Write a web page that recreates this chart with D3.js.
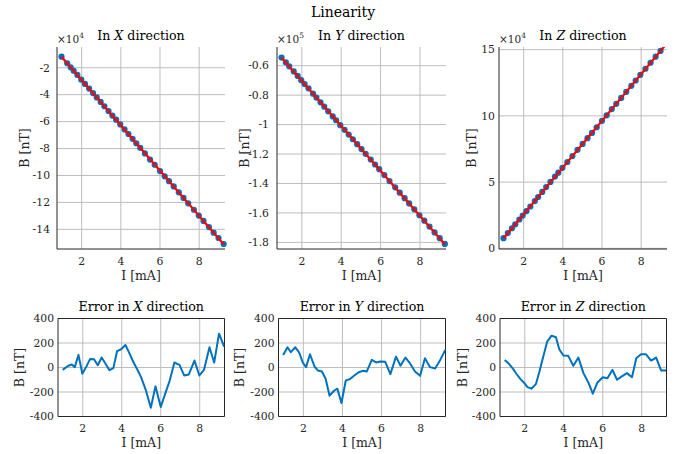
<!DOCTYPE html>
<html>
<head>
<meta charset="utf-8">
<script src="https://cdn.jsdelivr.net/npm/d3@7"></script>
<style>
body{margin:0;background:#fff}
svg text{fill:#262626}
</style>
</head>
<body>
<svg id="fig" width="686" height="454"></svg>
<script>
// measured currents [mA], field [nT] and fit residual [nT] for each direction
var currentX=[0.97,1.26,1.44,1.59,1.78,1.98,2.17,2.38,2.58,2.77,2.97,3.16,3.37,3.57,3.76,3.97,4.19,4.39,4.60,4.79,4.99,5.23,5.49,5.73,6.00,6.24,6.46,6.70,6.96,7.20,7.44,7.73,7.98,8.22,8.50,8.74,8.99,9.25];
var fieldX=[-11820,-16670,-19690,-22230,-25330,-28840,-31990,-35450,-38820,-42060,-45360,-48610,-52200,-55540,-58600,-62120,-65780,-69210,-72820,-76070,-79500,-83640,-88160,-92020,-96730,-100660,-104250,-108140,-112540,-116660,-120690,-125450,-129780,-133770,-138300,-142460,-146430,-150900];
var errorX=[-19,14,24,3,103,-51,3,70,68,19,81,33,-22,-5,133,149,184,117,43,-14,-79,-182,-328,-154,-322,-209,-106,41,22,-65,-57,57,-65,-19,165,41,276,171];
var fitIX=[0.97,9.25], fitBX=[-11805,-151075];

var currentY=[0.97,1.19,1.36,1.59,1.79,1.97,2.14,2.34,2.57,2.74,2.95,3.14,3.34,3.57,3.74,3.95,4.17,4.38,4.59,4.81,5.03,5.24,5.50,5.72,5.93,6.19,6.45,6.74,6.97,7.22,7.45,7.71,7.97,8.22,8.48,8.74,9.00,9.26];
var fieldY=[-54470,-57770,-60410,-63880,-66980,-69810,-72450,-75400,-79010,-81640,-84850,-87820,-91010,-94480,-97060,-100390,-103560,-106760,-109940,-113270,-116620,-119830,-123710,-127090,-130290,-134270,-138340,-142620,-146210,-149960,-153520,-157560,-161570,-165240,-169290,-173270,-177170,-181060];
var errorY=[103,165,125,165,122,41,3,108,8,-24,-33,-92,-230,-190,-173,-290,-106,-95,-68,-41,-27,-33,62,41,49,46,-54,89,14,81,35,-33,-68,76,3,-8,62,144];
var fitIY=[0.97,9.26], fitBY=[-54577,-181207];

var currentZ=[0.97,1.19,1.40,1.57,1.78,1.95,2.14,2.34,2.57,2.74,2.95,3.15,3.37,3.60,3.77,3.98,4.23,4.49,4.75,5.01,5.26,5.49,5.73,6.00,6.24,6.50,6.73,6.98,7.24,7.50,7.72,7.96,8.22,8.48,8.74,8.99,9.25];
var fieldZ=[7640,11490,15150,18110,21770,24740,28050,31570,35660,38760,42590,46240,50170,54220,57120,60770,65180,69680,74340,78800,83130,87100,91420,96230,100450,105110,109080,113520,118130,122690,126720,130990,135570,140110,144720,149020,153610];
var errorZ=[62,30,-11,-51,-95,-122,-160,-173,-136,-41,89,211,260,247,149,98,95,14,81,-46,-122,-214,-122,-79,-87,-19,-100,-73,-46,-79,76,108,108,57,81,-24,-24];
var fitIZ=[0.97,9.25], fitBZ=[7576,153635];

// ticks
var currentTicks=[2,4,6,8];
var fieldTicksX=[-2,-4,-6,-8,-10,-12,-14], expX=4;
var fieldTicksY=[-0.6,-0.8,-1,-1.2,-1.4,-1.6,-1.8], expY=5;
var fieldTicksZ=[0,5,10,15], expZ=4;
var errorTicks=[-400,-200,0,200,400];
var directions=["X","Y","Z"];

var blue="#0072BD";
var serif="DejaVu Serif";
var svg=d3.select("#fig").attr("font-family",serif);

svg.append("text").attr("x",343).attr("y",17).attr("text-anchor","middle")
  .attr("font-family",serif).attr("font-size",14).style("fill","#000").text("Linearity");

// panel geometry
var colsTop=[{l:57,r:225,gap:7,lab:25},{l:277,r:446,gap:8,lab:245},{l:499,r:667,gap:4,lab:472}];
var colsBot=[{l:58,r:224.5,gap:4,lab:20},{l:278.5,r:445.5,gap:4,lab:240},{l:500,r:666.5,gap:4,lab:463}];

var topData=[
  {I:currentX,B:fieldX,fi:fitIX,fb:fitBX,ticks:fieldTicksX,exp:expX,dom:[-154600,-4600]},
  {I:currentY,B:fieldY,fi:fitIY,fb:fitBY,ticks:fieldTicksY,exp:expY,dom:[-184500,-47300]},
  {I:currentZ,B:fieldZ,fi:fitIZ,fb:fitBZ,ticks:fieldTicksZ,exp:expZ,dom:[-500,152000]}
];
var botData=[{I:currentX,E:errorX},{I:currentY,E:errorY},{I:currentZ,E:errorZ}];

function title(g,x,y,pre,dir,size){
  var t=g.append("text").attr("x",x).attr("y",y).attr("text-anchor","middle")
    .attr("font-family",serif).attr("font-size",size).style("fill","#000");
  t.append("tspan").text(pre);
  t.append("tspan").attr("font-style","italic").text(dir);
  t.append("tspan").text(" direction");
}

function frame(g,x,y,yticks,yfmt,c,top,bottom,box,xlabY,xtickY){
  // grid
  g.selectAll(".gx").data(currentTicks).enter().append("line")
    .attr("x1",function(d){return x(d);}).attr("x2",function(d){return x(d);})
    .attr("y1",top).attr("y2",bottom).style("stroke","#bdbdbd").style("stroke-width",1);
  g.selectAll(".gy").data(yticks).enter().append("line")
    .attr("x1",c.l).attr("x2",c.r)
    .attr("y1",function(d){return y(d);}).attr("y2",function(d){return y(d);})
    .style("stroke","#bdbdbd").style("stroke-width",1);
  // axes lines
  g.append("line").attr("x1",c.l).attr("x2",c.l).attr("y1",top).attr("y2",bottom).style("stroke","#262626");
  g.append("line").attr("x1",c.l).attr("x2",c.r).attr("y1",bottom).attr("y2",bottom).style("stroke","#262626");
  if(box){
    g.append("line").attr("x1",c.r).attr("x2",c.r).attr("y1",top).attr("y2",bottom).style("stroke","#262626");
    g.append("line").attr("x1",c.l).attr("x2",c.r).attr("y1",top).attr("y2",top).style("stroke","#262626");
  }
  // tick labels
  g.selectAll(".tx").data(currentTicks).enter().append("text")
    .attr("x",function(d){return x(d);}).attr("y",xtickY).attr("text-anchor","middle")
    .attr("font-family",serif).attr("font-size",10.8).text(function(d){return d;});
  g.selectAll(".ty").data(yticks).enter().append("text")
    .attr("x",c.l-c.gap).attr("y",function(d){return y(d);}).attr("dy","0.35em")
    .attr("text-anchor","end").attr("font-family",serif).attr("font-size",10.8).text(yfmt);
  // labels
  g.append("text").attr("x",(c.l+c.r)/2).attr("y",xlabY).attr("text-anchor","middle")
    .attr("font-family",serif).attr("font-size",12.5).text("I [mA]");
  g.append("text").attr("transform","translate("+c.lab+","+((top+bottom)/2)+") rotate(-90)")
    .attr("text-anchor","middle").attr("dy","0.35em")
    .attr("font-family",serif).attr("font-size",12.5).text("B [nT]");
}

var defs=svg.append("defs");

topData.forEach(function(p,i){
  var c=colsTop[i], top=47, bottom=249;
  var g=svg.append("g");
  var x=d3.scaleLinear().domain([0.74,9.32]).range([c.l,c.r]);
  var y=d3.scaleLinear().domain(p.dom).range([bottom,top]);
  var k=Math.pow(10,p.exp);
  frame(g,x,function(v){return y(v*k);},p.ticks,function(d){return d;},c,top,bottom,false,280,264.5);

  defs.append("clipPath").attr("id","clipT"+i).append("rect")
    .attr("x",c.l).attr("y",top).attr("width",c.r-c.l).attr("height",bottom-top);
  var pts=p.I.map(function(v,j){return [v,p.B[j]];})
    .filter(function(d){return d[1]>=p.dom[0]&&d[1]<=p.dom[1];});
  g.selectAll(".dot").data(pts).enter().append("circle")
    .attr("cx",function(d){return x(d[0]);}).attr("cy",function(d){return y(d[1]);})
    .attr("r",3.1).style("fill",blue);
  var fit=p.fi.map(function(v,j){return [v,p.fb[j]];});
  g.append("path").datum(fit).attr("clip-path","url(#clipT"+i+")")
    .attr("d",d3.line().x(function(d){return x(d[0]);}).y(function(d){return y(d[1]);}))
    .style("fill","none").style("stroke","#ff0000").style("stroke-width",2.2);

  title(g,(c.l+c.r)/2,40,"In ",directions[i],12.6);
  var ex=g.append("text").attr("x",c.l).attr("y",42.5).attr("font-family",serif).attr("font-size",10.5);
  ex.append("tspan").text("\u00d710");
  ex.append("tspan").attr("dy",-5).attr("font-size",7.5).text(p.exp);
});

botData.forEach(function(p,i){
  var c=colsBot[i], top=318.5, bottom=416.5;
  var g=svg.append("g");
  var x=d3.scaleLinear().domain([0.73,9.27]).range([c.l,c.r]);
  var y=d3.scaleLinear().domain([-400,400]).range([bottom,top]);
  frame(g,x,y,errorTicks,function(d){return d;},c,top,bottom,true,446.5,431.5);
  defs.append("clipPath").attr("id","clipB"+i).append("rect")
    .attr("x",c.l).attr("y",top).attr("width",c.r-c.l).attr("height",bottom-top);
  var pts=p.I.map(function(v,j){return [v,p.E[j]];});
  g.append("path").datum(pts).attr("clip-path","url(#clipB"+i+")")
    .attr("d",d3.line().x(function(d){return x(d[0]);}).y(function(d){return y(d[1]);}))
    .style("fill","none").style("stroke",blue).style("stroke-width",2).style("stroke-linejoin","round");
  title(g,(c.l+c.r)/2,311,"Error in ",directions[i],12.6);
});
</script>
</body>
</html>
